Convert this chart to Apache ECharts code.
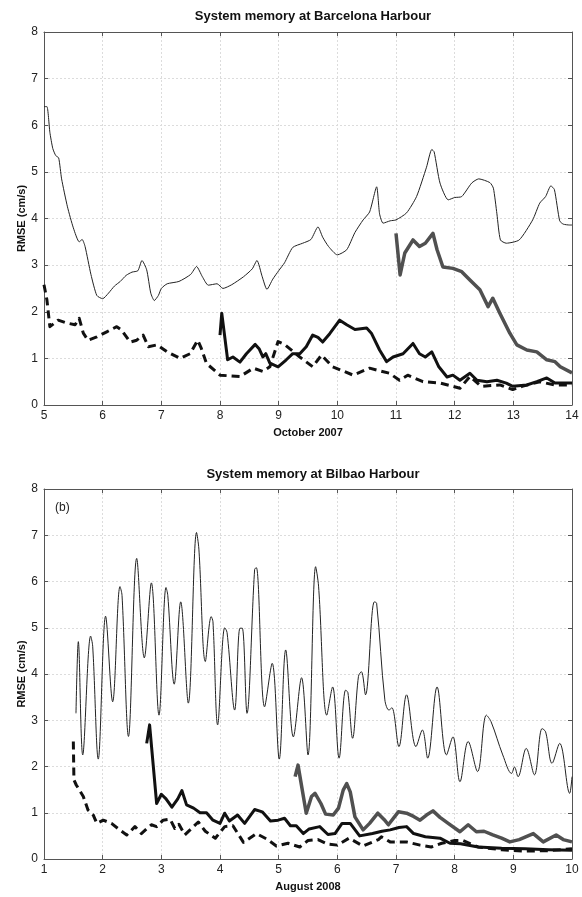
<!DOCTYPE html>
<html>
<head>
<meta charset="utf-8">
<script src="https://cdn.jsdelivr.net/npm/echarts@6/dist/echarts.min.js"></script>
<style>
  html, body { margin: 0; padding: 0; background: #fff; }
  #chart { width: 582px; height: 897px; }
</style>
</head>
<body>
<div id="chart"></div>
<script>
// ---- Barcelona, October 2007 (day of month, RMSE cm/s) ----
var bcnThin = [[5.0,6.4],[5.05,6.4],[5.1,5.85],[5.15,5.5],[5.2,5.35],[5.25,5.3],[5.3,4.85],[5.4,4.25],[5.5,3.8],[5.6,3.5],[5.65,3.55],[5.7,3.4],[5.8,2.8],[5.9,2.35],[6.0,2.28],[6.1,2.4],[6.2,2.55],[6.3,2.65],[6.4,2.78],[6.5,2.85],[6.6,2.88],[6.67,3.1],[6.75,2.9],[6.82,2.4],[6.88,2.24],[6.95,2.35],[7.0,2.5],[7.1,2.6],[7.3,2.65],[7.5,2.8],[7.6,2.97],[7.7,2.75],[7.8,2.57],[7.95,2.6],[8.05,2.5],[8.2,2.58],[8.4,2.75],[8.55,2.92],[8.63,3.1],[8.72,2.75],[8.8,2.48],[8.9,2.7],[9.0,2.88],[9.1,3.05],[9.24,3.38],[9.41,3.47],[9.55,3.55],[9.67,3.82],[9.75,3.6],[9.85,3.4],[10.0,3.22],[10.16,3.33],[10.3,3.7],[10.44,3.97],[10.55,4.14],[10.67,4.68],[10.72,4.1],[10.78,3.9],[10.9,3.95],[11.0,3.97],[11.18,4.12],[11.35,4.47],[11.52,5.1],[11.61,5.48],[11.65,5.43],[11.75,4.76],[11.89,4.4],[12.0,4.45],[12.12,4.47],[12.29,4.76],[12.41,4.85],[12.6,4.77],[12.66,4.65],[12.72,4.1],[12.78,3.54],[12.88,3.47],[13.1,3.54],[13.33,3.97],[13.45,4.33],[13.55,4.47],[13.64,4.7],[13.7,4.62],[13.79,3.95],[13.85,3.88],[13.96,3.86],[14.0,3.86]];
var bcnBlack = [[8.0,1.5],[8.03,1.97],[8.13,0.97],[8.22,1.03],[8.34,0.92],[8.45,1.1],[8.6,1.3],[8.67,1.2],[8.73,1.03],[8.78,1.1],[8.85,0.9],[8.99,0.82],[9.13,0.97],[9.24,1.1],[9.36,1.1],[9.47,1.25],[9.58,1.5],[9.67,1.45],[9.75,1.35],[9.87,1.53],[10.04,1.82],[10.16,1.72],[10.3,1.62],[10.5,1.65],[10.58,1.54],[10.72,1.18],[10.84,0.93],[10.95,1.03],[11.12,1.1],[11.29,1.32],[11.4,1.1],[11.5,1.03],[11.61,1.14],[11.73,0.82],[11.87,0.6],[11.97,0.64],[12.09,0.53],[12.26,0.68],[12.38,0.53],[12.55,0.5],[12.72,0.53],[12.88,0.47],[12.99,0.4],[13.23,0.43],[13.4,0.5],[13.57,0.58],[13.71,0.47],[13.96,0.47],[14.0,0.47]];
var bcnGrey = [[11.0,3.68],[11.07,2.79],[11.15,3.26],[11.29,3.54],[11.4,3.4],[11.5,3.47],[11.63,3.68],[11.7,3.33],[11.8,2.96],[11.97,2.93],[12.12,2.86],[12.26,2.68],[12.43,2.47],[12.57,2.11],[12.65,2.29],[12.77,1.97],[12.94,1.54],[13.06,1.29],[13.23,1.18],[13.4,1.14],[13.57,0.97],[13.71,0.93],[13.8,0.82],[14.0,0.69]];
var bcnDash = [[5.0,2.58],[5.05,2.25],[5.1,1.68],[5.24,1.82],[5.38,1.76],[5.53,1.72],[5.6,1.86],[5.67,1.54],[5.75,1.39],[5.9,1.46],[6.07,1.57],[6.24,1.68],[6.32,1.61],[6.47,1.35],[6.58,1.39],[6.69,1.5],[6.78,1.25],[6.93,1.29],[7.1,1.14],[7.32,1.0],[7.49,1.1],[7.62,1.39],[7.68,1.22],[7.77,0.89],[8.0,0.64],[8.34,0.61],[8.57,0.79],[8.73,0.72],[8.85,0.82],[8.99,1.36],[9.1,1.3],[9.36,1.03],[9.58,0.82],[9.73,1.07],[9.92,0.82],[10.27,0.64],[10.55,0.79],[10.89,0.68],[11.06,0.53],[11.2,0.64],[11.46,0.5],[11.75,0.47],[12.09,0.36],[12.26,0.61],[12.45,0.4],[12.77,0.43],[12.99,0.33],[13.15,0.4],[13.45,0.5],[13.7,0.43],[14.0,0.43]];

// ---- Bilbao, August 2008 ----
var bioThin = [[1.545,3.15],[1.585,4.7],[1.66,2.25],[1.795,4.82],[1.83,4.6],[1.925,2.16],[2.05,5.25],[2.17,3.4],[2.295,5.89],[2.33,5.7],[2.44,2.65],[2.58,6.5],[2.71,4.35],[2.83,5.97],[2.96,3.11],[3.08,5.87],[3.11,5.7],[3.22,3.78],[3.33,5.56],[3.46,3.37],[3.6,7.06],[3.64,6.7],[3.75,4.27],[3.85,5.24],[3.88,5.13],[3.96,2.9],[4.08,5.0],[4.12,4.9],[4.25,3.22],[4.34,4.99],[4.38,4.99],[4.46,3.15],[4.59,6.26],[4.62,6.3],[4.76,3.29],[4.89,4.23],[5.01,2.16],[5.12,4.52],[5.25,2.64],[5.39,3.92],[5.5,2.25],[5.63,6.32],[5.68,5.9],[5.82,3.11],[5.92,3.72],[6.03,2.18],[6.14,3.65],[6.18,3.6],[6.26,2.61],[6.36,3.95],[6.41,4.05],[6.48,3.55],[6.63,5.56],[6.67,5.53],[6.81,3.44],[6.88,3.22],[6.93,3.27],[7.05,2.43],[7.18,3.55],[7.34,2.43],[7.45,2.79],[7.54,2.18],[7.7,3.72],[7.86,2.25],[7.97,2.64],[8.09,1.67],[8.23,2.54],[8.39,1.89],[8.54,3.11],[8.62,2.97],[8.82,2.25],[8.97,1.85],[9.02,1.99],[9.08,1.78],[9.22,2.39],[9.36,1.82],[9.49,2.82],[9.55,2.75],[9.66,2.07],[9.79,2.5],[9.96,1.42],[10.0,1.78]];
var bioBlack = [[2.75,2.5],[2.8,2.9],[2.92,1.2],[3.0,1.4],[3.08,1.3],[3.18,1.12],[3.28,1.3],[3.35,1.48],[3.43,1.17],[3.55,1.1],[3.66,1.0],[3.77,1.0],[3.88,0.84],[4.0,0.77],[4.08,0.99],[4.16,0.82],[4.3,0.95],[4.42,0.77],[4.59,1.07],[4.72,1.02],[4.86,0.82],[4.99,0.84],[5.1,0.88],[5.2,0.72],[5.3,0.72],[5.42,0.55],[5.52,0.65],[5.7,0.7],[5.84,0.53],[5.96,0.55],[6.08,0.77],[6.22,0.77],[6.38,0.5],[6.6,0.55],[6.76,0.6],[6.9,0.63],[7.05,0.68],[7.18,0.7],[7.3,0.55],[7.5,0.48],[7.75,0.45],[7.92,0.34],[8.1,0.33],[8.4,0.26],[8.8,0.23],[9.2,0.22],[9.6,0.2],[10.0,0.19]];
var bioGrey = [[5.28,1.78],[5.33,2.03],[5.47,0.99],[5.56,1.35],[5.62,1.42],[5.72,1.2],[5.8,0.97],[5.93,0.95],[6.02,1.1],[6.1,1.49],[6.16,1.63],[6.22,1.45],[6.3,0.91],[6.44,0.63],[6.55,0.77],[6.69,0.99],[6.8,0.85],[6.87,0.74],[7.04,1.02],[7.18,0.99],[7.3,0.92],[7.41,0.84],[7.52,0.95],[7.63,1.04],[7.75,0.9],[7.89,0.77],[8.09,0.59],[8.23,0.74],[8.37,0.59],[8.5,0.6],[8.65,0.52],[8.8,0.45],[8.94,0.37],[9.1,0.42],[9.34,0.55],[9.51,0.37],[9.73,0.52],[9.85,0.42],[10.0,0.37]];
var bioDash = [[1.5,2.54],[1.51,1.71],[1.55,1.6],[1.67,1.35],[1.75,1.06],[1.84,0.95],[1.9,0.77],[2.01,0.84],[2.15,0.77],[2.29,0.63],[2.41,0.52],[2.55,0.7],[2.66,0.55],[2.83,0.74],[2.92,0.7],[3.03,0.84],[3.15,0.86],[3.23,0.66],[3.3,0.75],[3.4,0.52],[3.63,0.8],[3.75,0.6],[3.92,0.45],[4.08,0.7],[4.22,0.72],[4.4,0.36],[4.62,0.55],[4.8,0.43],[4.96,0.28],[5.16,0.34],[5.36,0.26],[5.5,0.4],[5.67,0.42],[5.84,0.32],[6.0,0.3],[6.2,0.45],[6.44,0.28],[6.7,0.42],[6.75,0.48],[6.9,0.37],[7.18,0.37],[7.41,0.3],[7.6,0.26],[7.78,0.34],[8.0,0.4],[8.14,0.4],[8.4,0.26],[8.8,0.2],[9.2,0.17],[9.6,0.18],[10.0,0.22]];

var titles = ['System memory at Barcelona Harbour', 'System memory at Bilbao Harbour'];
var xNames = ['October 2007', 'August 2008'];
var xRanges = [[5, 14], [1, 10]];
var yName = 'RMSE (cm/s)';

var FONT = 'Liberation Sans';
var myChart = echarts.init(document.getElementById('chart'));

function xAx(i, top) {
	return {
		type: 'value', gridIndex: i, min: xRanges[i][0], max: xRanges[i][1], interval: 1,
		position: top ? 'top' : 'bottom',
		name: top ? '' : xNames[i], nameLocation: 'middle', nameGap: 22,
		nameTextStyle: { fontFamily: FONT, fontWeight: 'bold', fontSize: 11, color: '#111' },
		axisLine: { onZero: false, lineStyle: { color: '#555', width: 1 } },
		axisTick: { inside: true, length: 4, lineStyle: { color: '#555' } },
		axisLabel: { show: !top, margin: 5, fontFamily: FONT, fontSize: 12, color: '#222' },
		splitLine: { show: !top, lineStyle: { color: '#dcdcdc', type: [2, 2] } }
	};
}
function yAx(i, right) {
	return {
		type: 'value', gridIndex: i, min: 0, max: 8, interval: 1,
		position: right ? 'right' : 'left',
		name: right ? '' : yName, nameLocation: 'middle', nameGap: 17, nameMoveOverlap: false,
		nameTextStyle: { fontFamily: FONT, fontWeight: 'bold', fontSize: 11, color: '#111' },
		axisLine: { show: true, onZero: false, lineStyle: { color: '#555', width: 1 } },
		axisTick: { show: true, inside: true, length: 4, lineStyle: { color: '#555' } },
		axisLabel: { show: !right, margin: 6, fontFamily: FONT, fontSize: 12, color: '#222' },
		splitLine: { show: !right, lineStyle: { color: '#dcdcdc', type: [2, 2] } }
	};
}
function line(i, data, color, width, dash, smooth) {
	return {
		type: 'line', xAxisIndex: i * 2, yAxisIndex: i * 2, data: data,
		showSymbol: false, smooth: smooth || 0, silent: true,
		lineStyle: { color: color, width: width, type: dash || 'solid', join: 'round' }
	};
}

var option = {
	animation: false,
	title: [
		{ text: titles[0], left: 308, top: 5, textAlign: 'center',
		  textStyle: { fontFamily: FONT, fontWeight: 'bold', fontSize: 13, color: '#111' } },
		{ text: titles[1], left: 308, top: 463, textAlign: 'center',
		  textStyle: { fontFamily: FONT, fontWeight: 'bold', fontSize: 13, color: '#111' } }
	],
	grid: [
		{ left: 44, right: 10, top: 32, height: 373 },
		{ left: 44, right: 10, top: 489, height: 370 }
	],
	xAxis: [xAx(0, false), xAx(0, true), xAx(1, false), xAx(1, true)],
	yAxis: [yAx(0, false), yAx(0, true), yAx(1, false), yAx(1, true)],
	graphic: [
		{ type: 'text', left: 55, top: 502, style: { text: '(b)', fontFamily: FONT, fontSize: 12, fill: '#222' } }
	],
	series: [
		line(0, bcnThin, '#222', 1, null, 0.2),
		line(0, bcnDash, '#111', 3, [8, 5]),
		line(0, bcnBlack, '#111', 3),
		line(0, bcnGrey, '#505050', 3.5),
		line(1, bioThin, '#222', 1, null, 0.35),
		line(1, bioDash, '#111', 3, [8, 5]),
		line(1, bioBlack, '#111', 3),
		line(1, bioGrey, '#505050', 3.5)
	]
};
myChart.setOption(option);
</script>
</body>
</html>
